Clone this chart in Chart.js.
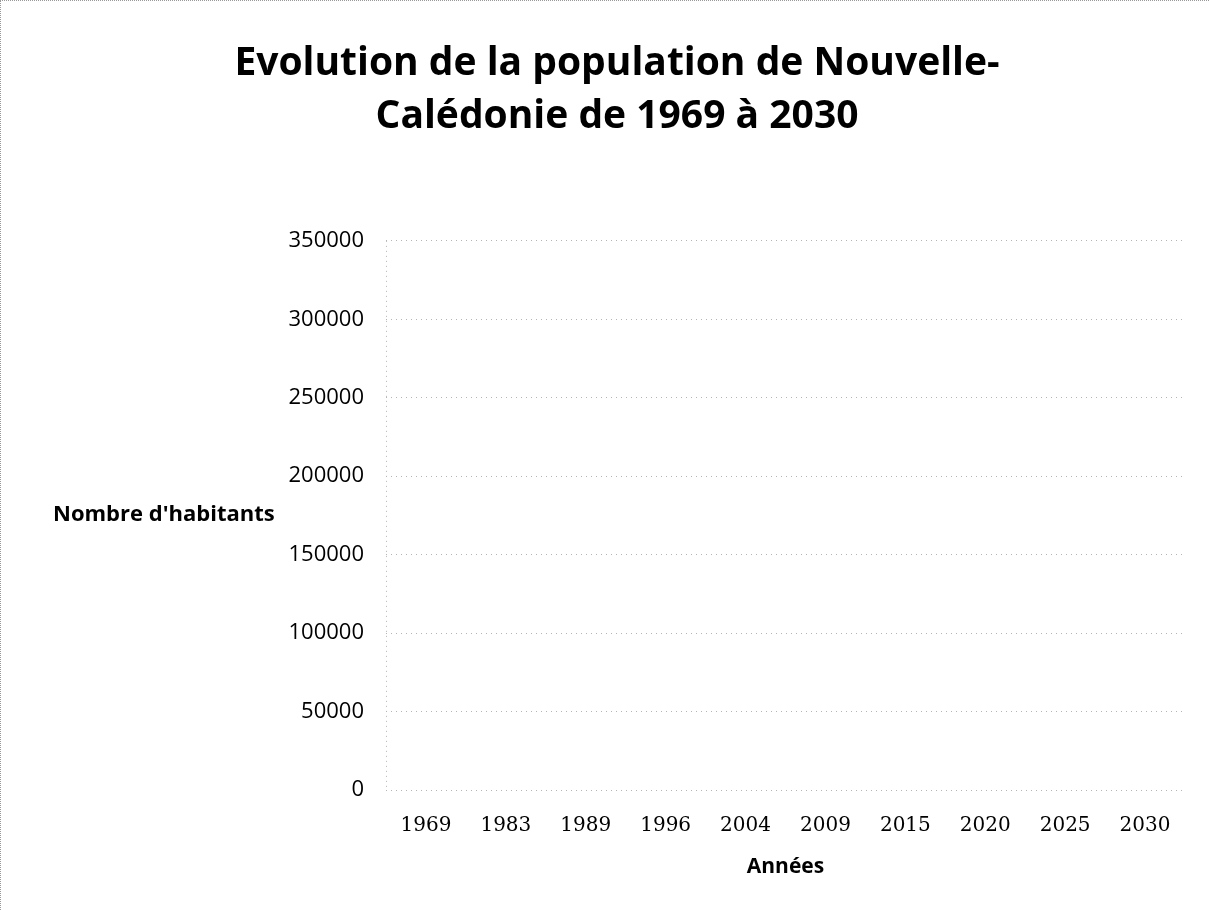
<!DOCTYPE html>
<html lang="fr">
<head>
<meta charset="utf-8">
<title>Evolution de la population de Nouvelle-Calédonie</title>
<script src="https://cdn.jsdelivr.net/npm/chart.js@4"></script>
<style>
  html, body { margin: 0; padding: 0; background: #fff; }
  #wrap {
    position: relative; width: 1209px; height: 910px;
    box-sizing: border-box;
    border-left: 1px dotted #999; border-top: 1px dotted #999;
  }
</style>
</head>
<body>
<div id="wrap"><canvas id="popChart"></canvas></div>
<script>
'use strict';

// ── Data ──────────────────────────────────────────────────────
const YEARS      = ['1969', '1983', '1989', '1996', '2004', '2009', '2015', '2020', '2025', '2030'];
// no series is visible in the reference: every point is empty
const POPULATION = [null, null, null, null, null, null, null, null, null, null];
const Y_MIN  = 0;
const Y_MAX  = 350000;
const Y_STEP = 50000;

const TITLE_LINES = ['Evolution de la population de Nouvelle-', 'Calédonie de 1969 à 2030'];
const Y_TITLE     = "Nombre d'habitants";
const X_TITLE     = 'Années';

const SANS  = "'Open Sans', Lato, sans-serif";
const SERIF = "'DejaVu Serif', 'Liberation Serif', serif";
const GRID  = '#b5b5b5';

// ── Horizontal y-axis title + dotted axis line ───────────────
const yAxisExtras = {
  id: 'yAxisExtras',
  afterDraw(chart) {
    const { ctx, chartArea } = chart;
    ctx.save();
    // dotted vertical axis line
    ctx.strokeStyle = GRID;
    ctx.lineWidth = 1;
    ctx.setLineDash([1, 4]);
    ctx.beginPath();
    ctx.moveTo(chartArea.left + 0.5, chartArea.top);
    ctx.lineTo(chartArea.left + 0.5, chartArea.bottom);
    ctx.stroke();
    // axis title, written horizontally on the left
    ctx.setLineDash([]);
    ctx.font = 'bold 22px ' + SANS;
    ctx.fillStyle = '#000';
    ctx.textAlign = 'left';
    ctx.textBaseline = 'middle';
    ctx.fillText(Y_TITLE, 52, 514);
    ctx.restore();
  },
};

new Chart(document.getElementById('popChart'), {
  type: 'line',
  data: {
    labels: YEARS,
    datasets: [{
      label: 'Population',
      data: POPULATION,
      borderColor: '#4f81bd',
      backgroundColor: '#4f81bd',
      pointRadius: 0,
      borderWidth: 2,
    }],
  },
  options: {
    responsive: true,
    maintainAspectRatio: false,
    animation: false,
    layout: { padding: { left: 48, right: 24, top: 0, bottom: 30 } },
    plugins: {
      legend: { display: false },
      tooltip: { enabled: false },
      title: {
        display: true,
        text: TITLE_LINES,
        color: '#000',
        font: { family: SANS, size: 39, weight: 'bold', lineHeight: 1.37 },
        padding: { top: 36, bottom: 97 },
      },
    },
    scales: {
      x: {
        offset: true,
        grid: { display: false, drawTicks: false },
        border: { display: false },
        ticks: {
          color: '#000',
          padding: 24,
          maxRotation: 0,
          font: { family: SERIF, size: 20 },
        },
        title: {
          display: true,
          text: X_TITLE,
          color: '#000',
          padding: 0,
          font: { family: SANS, size: 21, weight: 'bold' },
        },
        afterFit(scale) { scale.height = 90; },
      },
      y: {
        min: Y_MIN,
        max: Y_MAX,
        grid: { color: GRID, lineWidth: 1, drawTicks: false },
        border: { display: false, dash: [1, 4] },
        ticks: {
          stepSize: Y_STEP,
          color: '#000',
          padding: 22,
          font: { family: SANS, size: 22 },
          callback: (v) => String(v),
        },
        afterFit(scale) { scale.width = 337; },
      },
    },
  },
  plugins: [yAxisExtras],
});
</script>
</body>
</html>
